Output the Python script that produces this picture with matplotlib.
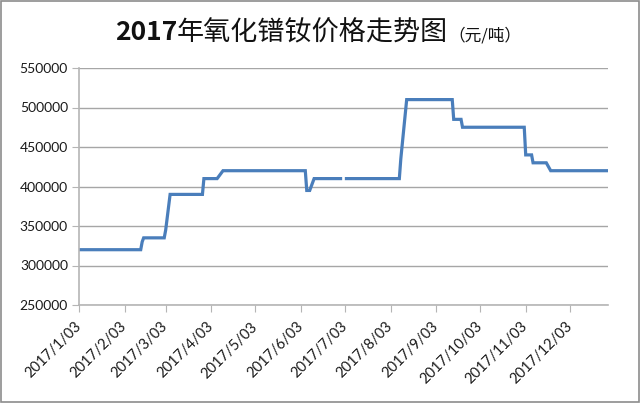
import matplotlib
matplotlib.use("Agg")
import matplotlib.pyplot as plt
from matplotlib.offsetbox import TextArea, HPacker, AnchoredOffsetbox
from matplotlib.patches import Rectangle
import numpy as np
import pandas as pd

# ---- data (breakpoints of a daily step series) ----
dates = ["2017-01-03", "2017-02-14", "2017-02-15", "2017-02-16", "2017-03-02",
         "2017-03-03", "2017-03-06", "2017-03-28", "2017-03-29", "2017-04-07",
         "2017-04-11", "2017-06-06", "2017-06-07", "2017-06-09", "2017-06-12",
         "2017-06-30", "2017-07-03", "2017-07-04", "2017-08-09", "2017-08-10",
         "2017-08-14", "2017-09-14", "2017-09-15", "2017-09-20", "2017-09-21",
         "2017-11-02", "2017-11-03", "2017-11-07", "2017-11-08", "2017-11-17",
         "2017-11-20", "2017-12-29"]
prices = [320000, 320000, 330000, 335000, 335000,
          345000, 390000, 390000, 410000, 410000,
          420000, 420000, 395000, 395000, 410000,
          410000, np.nan, 410000, 410000, 435000,
          510000, 510000, 485000, 485000, 475000,
          475000, 440000, 440000, 430000, 430000,
          420000, 420000]
tick_dates = ["2017-01-03", "2017-02-03", "2017-03-03", "2017-04-03", "2017-05-03",
              "2017-06-03", "2017-07-03", "2017-08-03", "2017-09-03", "2017-10-03",
              "2017-11-03", "2017-12-03"]
tick_labels = ["2017/1/03", "2017/2/03", "2017/3/03", "2017/4/03", "2017/5/03",
               "2017/6/03", "2017/7/03", "2017/8/03", "2017/9/03", "2017/10/03",
               "2017/11/03", "2017/12/03"]
y_ticks = [250000, 300000, 350000, 400000, 450000, 500000, 550000]
title_num = "2017"
title_main = "年氧化镨钕价格走势图"
title_unit = "（元/吨）"

plt.rcParams['font.family'] = ['Lato', 'Noto Sans CJK SC', 'DejaVu Sans']

fig = plt.figure(figsize=(6.4, 4.03), dpi=100)
ax = fig.add_axes([79/640, 1-305/403, (608-79)/640, (305-68)/403])

x = pd.to_datetime(dates)
ax.plot(x, prices, color="#4A7EBB", linewidth=2.3, solid_joinstyle="miter")

ax.set_xlim(pd.Timestamp("2017-01-03"), pd.Timestamp("2017-12-29"))
ax.set_ylim(250000, 550000)
ax.set_yticks(y_ticks)
ax.set_yticklabels([str(v) for v in y_ticks])
ax.set_xticks(pd.to_datetime(tick_dates))
ax.set_xticklabels(tick_labels, rotation=45, ha="right", va="center",
                   rotation_mode="anchor")

grid_c = "#a6a6a6"
ax.grid(axis="y", color=grid_c, linewidth=1.0)
ax.set_axisbelow(True)
for s in ["top", "right"]:
    ax.spines[s].set_visible(False)
for s in ["left", "bottom"]:
    ax.spines[s].set_color("#b5b5b5")
    ax.spines[s].set_linewidth(1.2)
ax.tick_params(axis="y", length=5, color="#b5b5b5", labelsize=10, labelcolor="#1a1a1a", pad=3)
ax.tick_params(axis="x", length=5, color="#b5b5b5", labelsize=10.5, labelcolor="#1a1a1a", pad=9)

# title: bold digits, regular CJK, smaller unit
t1 = TextArea(title_num, textprops=dict(fontsize=19, fontweight="bold",
                                         family=["Noto Sans CJK SC"], color="#111111"))
t2 = TextArea(title_main, textprops=dict(fontsize=19.5, family=["Noto Sans CJK SC"],
                                          color="#111111"))
t3 = TextArea(title_unit, textprops=dict(fontsize=12, family=["Noto Sans CJK SC"],
                                          color="#111111"))
pack = HPacker(children=[t1, t2, t3], align="baseline", pad=0, sep=0)
ab = AnchoredOffsetbox(loc="center", child=pack, frameon=False,
                       bbox_to_anchor=(318/640, 1-33/403), bbox_transform=fig.transFigure,
                       borderpad=0, pad=0)
fig.add_artist(ab)

# chart border
fig.add_artist(Rectangle((0.002, 0.003), 0.996, 0.994, transform=fig.transFigure,
                         fill=False, edgecolor="#8c8c8c", linewidth=1.2))

fig.savefig("out.png", dpi=100)
